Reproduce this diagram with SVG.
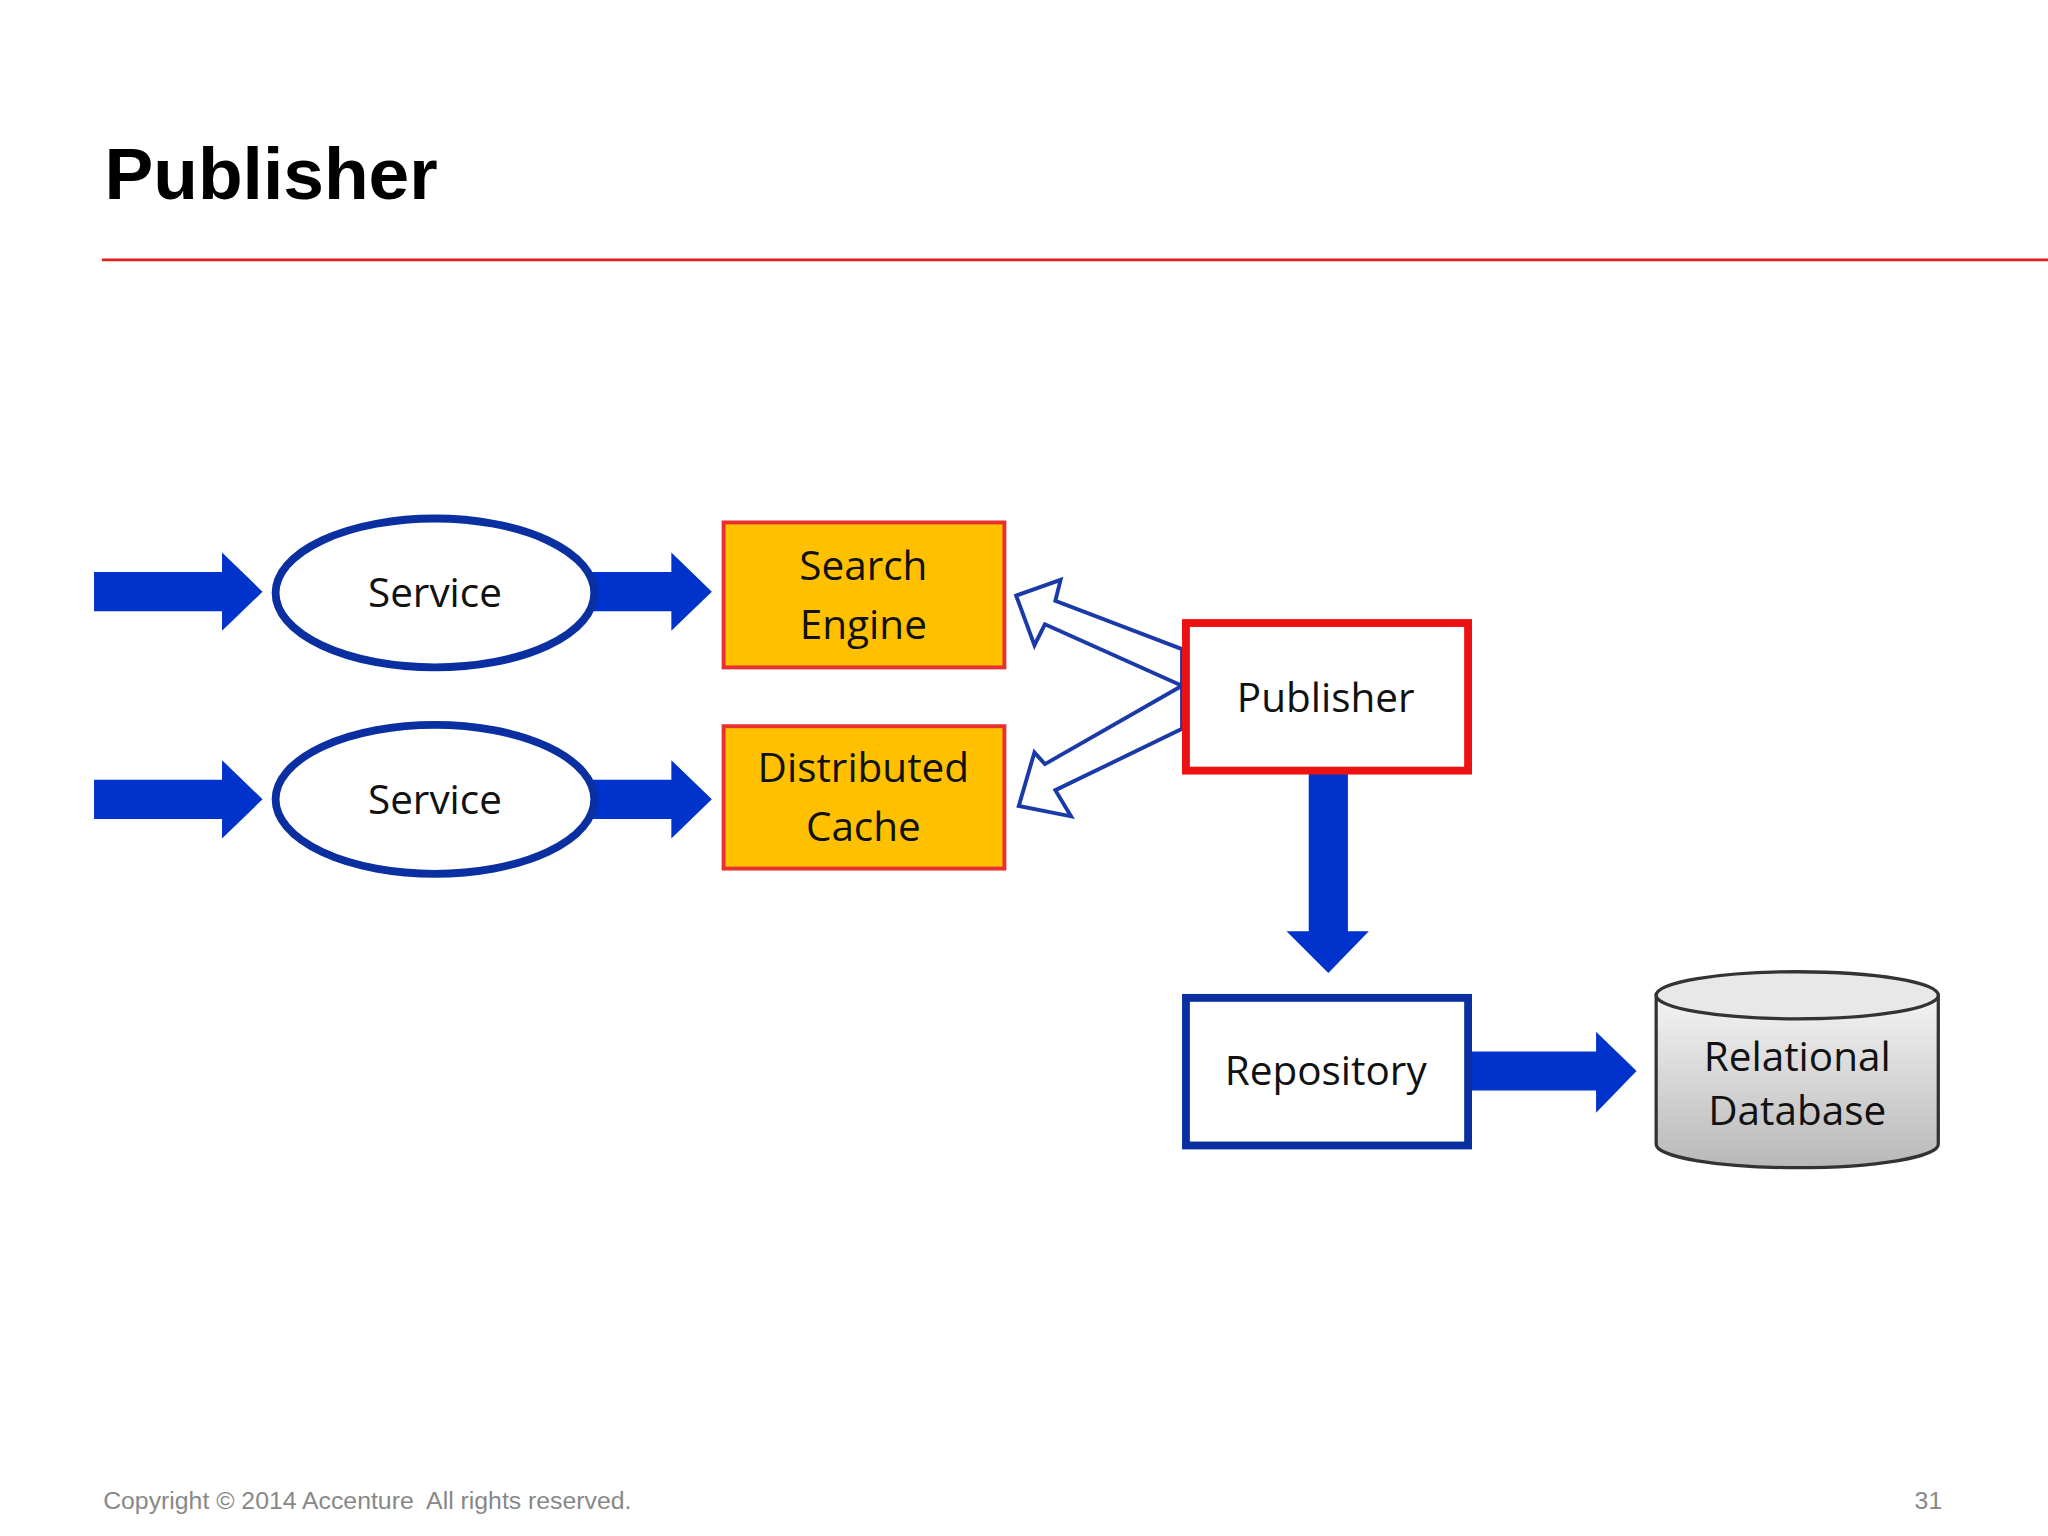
<svg xmlns="http://www.w3.org/2000/svg" width="2048" height="1536" viewBox="0 0 2048 1536">
<defs>
<style>
.t{font-family:"Open Sans","DejaVu Sans",sans-serif;font-size:31px;fill:#111;text-anchor:middle}
.blue{fill:#0033cc}
.hol{fill:#fff;stroke:#1a3aa8;stroke-width:3}
</style>
<linearGradient id="g" x1="0" y1="0" x2="0" y2="1"><stop offset="0" stop-color="#f4f4f4"/><stop offset="1" stop-color="#b8b8b8"/></linearGradient>
</defs>
<rect width="2048" height="1536" fill="#fff"/>
<g transform="scale(1.30612)">
<text x="80" y="152" font-family="Liberation Sans,Arial,sans-serif" font-weight="bold" font-size="56" fill="#000">Publisher</text>
<line x1="78" y1="199" x2="1568" y2="199" stroke="#e02020" stroke-width="2"/>
<g id="connectors">
<polygon class="blue" points="72,438 170,438 170,423 201,453 170,483 170,468 72,468"/>
<polygon class="blue" points="72,597 170,597 170,582 201,612 170,642 170,627 72,627"/>
<polygon class="blue" points="450,438 514,438 514,423 545,453 514,483 514,468 450,468"/>
<polygon class="blue" points="450,597 514,597 514,582 545,612 514,642 514,627 450,627"/>
<polygon class="hol" points="905,497 808,460 812,444 778,456 792,494 800,478 905,525"/>
<polygon class="hol" points="905,525 800,585 792,576 780,617 820,625 808,605 905,558"/>
<polygon class="blue" points="1002,590 1032,590 1032,713 1048,713 1017,745 985,713 1002,713"/>
<polygon class="blue" points="1127,805 1222,805 1222,790 1253,820 1222,852 1222,835 1127,835"/>
</g>
<g id="service1"><ellipse cx="333" cy="454" rx="122" ry="57" fill="#fff" stroke="#0a2fa0" stroke-width="6"/><text class="t" x="333" y="465">Service</text></g>
<g id="service2"><ellipse cx="333" cy="612" rx="122" ry="57" fill="#fff" stroke="#0a2fa0" stroke-width="6"/><text class="t" x="333" y="623">Service</text></g>
<g id="search"><rect x="554" y="400" width="215" height="111" fill="#ffc000" stroke="#e83030" stroke-width="3"/><text class="t" x="661" y="444">Search</text><text class="t" x="661" y="489">Engine</text></g>
<g id="cache"><rect x="554" y="556" width="215" height="109" fill="#ffc000" stroke="#e83030" stroke-width="3"/><text class="t" x="661" y="599">Distributed</text><text class="t" x="661" y="644">Cache</text></g>
<g id="publisher"><rect x="908" y="477" width="216" height="113" fill="#fff" stroke="#ee1111" stroke-width="6"/><text class="t" x="1015" y="545">Publisher</text></g>
<g id="repository"><rect x="908" y="764" width="216" height="113" fill="#fff" stroke="#0a2fa0" stroke-width="6"/><text class="t" x="1015" y="831">Repository</text></g>
<g id="database">
<path d="M1268,762 L1268,876 A108,18 0 0 0 1484,876 L1484,762 Z" fill="url(#g)" stroke="#333" stroke-width="2.5"/>
<ellipse cx="1376" cy="762" rx="108" ry="18" fill="#e8e8e8" stroke="#333" stroke-width="2.5"/>
<text class="t" x="1376" y="820">Relational</text><text class="t" x="1376" y="861">Database</text>
</g>
<text x="79" y="1155" font-family="Liberation Sans,Arial,sans-serif" font-size="19" fill="#888" xml:space="preserve">Copyright © 2014 Accenture  All rights reserved.</text>
<text x="1487" y="1155" font-family="Liberation Sans,Arial,sans-serif" font-size="19" fill="#888" text-anchor="end">31</text>
</g>
</svg>
